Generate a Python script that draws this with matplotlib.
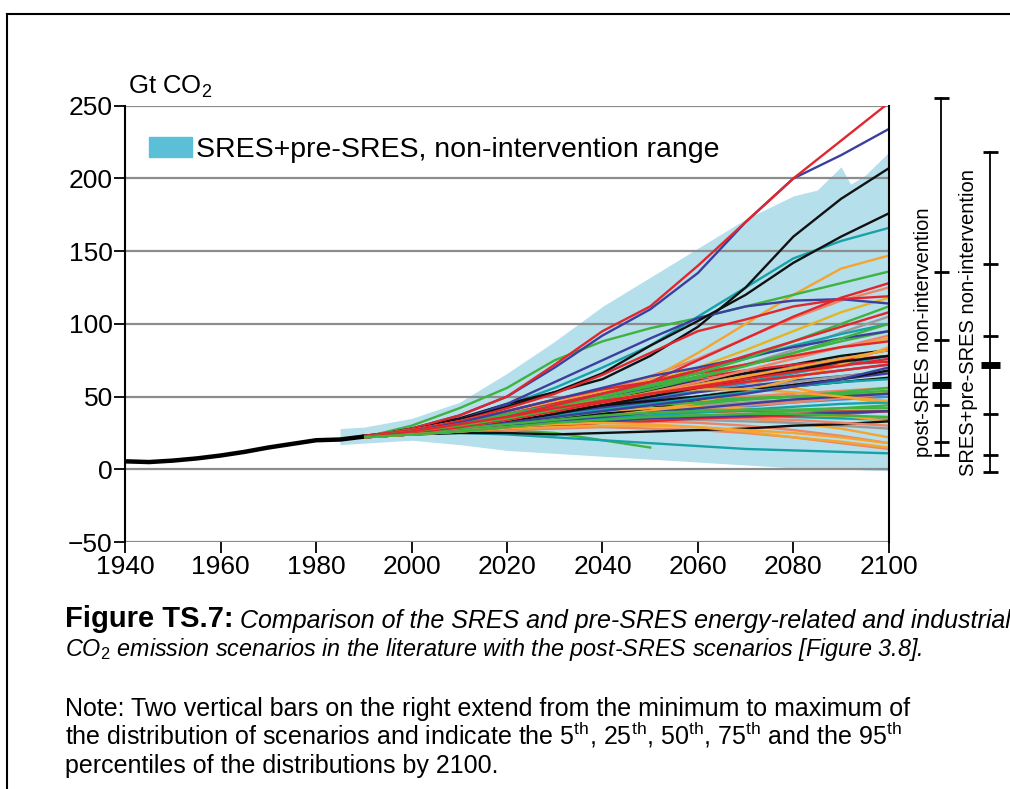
import numpy as np
import matplotlib
matplotlib.use("Agg")
import matplotlib.pyplot as plt
from matplotlib.patches import Patch
from matplotlib.lines import Line2D
import matplotlib.transforms as mtransforms

plt.rcParams['font.family'] = ['Liberation Sans', 'DejaVu Sans']
plt.rcParams['mathtext.fontset'] = 'custom'
plt.rcParams['mathtext.rm'] = 'Liberation Sans'
plt.rcParams['mathtext.it'] = 'Liberation Sans:italic'
plt.rcParams['mathtext.bf'] = 'Liberation Sans:bold'

# ===============================
# DATA
# ===============================

hist_years = [1940, 1945, 1950, 1955, 1960, 1965, 1970, 1975, 1980, 1985, 1990]
hist_co2 = [5.5, 5.0, 6.0, 7.5, 9.5, 12.0, 15.0, 17.5, 20.0, 20.5, 22.5]

band_years = [1985, 1990, 2000, 2010, 2020, 2030, 2040, 2050, 2060, 2070, 2080, 2085, 2090, 2092, 2095, 2100]
band_low = [17, 18, 20, 17, 13, 11, 9, 7, 5, 3, 1, 0.5, 0, 0, -0.5, -1]
band_high = [28, 29, 35, 46, 66, 88, 112, 132, 152, 172, 188, 192, 208, 196, 202, 218]

years = [1990, 2000, 2010, 2020, 2030, 2040, 2050, 2060, 2070, 2080, 2090, 2100]
nan = np.nan

red_runs = [
    [22, 28, 37, 50, 72, 95, 112, 140, 170, 200, 226, 252],
    [23, 27, 33, 42, 52, 65, 80, 95, 103, 112, 117, 119],
    [22, 26, 31, 37, 45, 52, 60, 75, 90, 105, 118, 128],
    [23, 26, 32, 38, 45, 52, 58, 63, 68, 72, 75, 78],
    [22, 25, 29, 33, 38, 45, 52, 58, 63, 68, 72, 74],
    [23, 27, 33, 40, 48, 55, 60, 66, 72, 78, 84, 88],
    [22, 24, 26, 28, 30, 32, 33, 35, 36, 37, 38, 40],
    [22, 25, 30, 36, 44, 52, 60, 68, 78, 88, 98, 108],
    [22, 25, 29, 34, 40, 46, 52, 57, 62, 67, 71, 76],
    [22, 26, 31, 36, 42, 47, 52, 56, 60, 64, 68, 72],
]
blue_runs = [
    [22, 28, 37, 50, 70, 92, 110, 135, 170, 200, 216, 234],
    [23, 27, 34, 45, 60, 75, 90, 104, 112, 116, 117, 114],
    [22, 26, 31, 37, 44, 50, 56, 61, 66, 70, 74, 78],
    [22, 25, 29, 33, 38, 43, 48, 53, 57, 61, 64, 67],
    [23, 26, 30, 34, 38, 42, 46, 50, 54, 58, 62, 66],
    [22, 24, 27, 30, 33, 36, 39, 42, 45, 48, 50, 52],
    [22, 26, 32, 40, 48, 56, 64, 70, 77, 84, 90, 95],
    [22, 25, 28, 32, 36, 40, 44, 48, 52, 57, 62, 70],
    [22, 24, 26, 29, 31, 33, 35, 36, 37, 38, 39, 40],
]
black_runs = [
    [22, 28, 35, 45, 53, 62, 78, 98, 125, 160, 186, 207],
    [22, 27, 34, 43, 53, 66, 85, 102, 120, 142, 160, 176],
    [23, 26, 30, 34, 40, 47, 54, 60, 66, 72, 78, 82],
    [22, 25, 28, 31, 34, 38, 42, 48, 53, 57, 60, 63],
    [22, 24, 25, 25, 24, 25, 26, 27, 28, 30, 31, 33],
    [23, 26, 31, 36, 40, 44, 47, 50, 54, 58, 62, 68],
    [22, 25, 29, 33, 38, 44, 50, 56, 62, 68, 74, 78],
]
teal_runs = [
    [22, 27, 34, 44, 56, 70, 85, 105, 125, 145, 157, 166],
    [22, 24, 25, 24, 22, 20, 18, 16, 14, 13, 12, 11],
    [23, 26, 30, 35, 40, 45, 50, 55, 60, 66, 72, 78],
    [22, 25, 28, 31, 33, 35, 36, 37, 37, 36, 35, 34],
    [22, 26, 31, 37, 44, 52, 60, 68, 76, 85, 93, 100],
    [22, 24, 27, 29, 32, 35, 37, 39, 41, 43, 45, 46],
    [22, 25, 29, 33, 37, 41, 45, 49, 53, 57, 60, 62],
]
green_runs = [
    [22, 30, 42, 56, 75, 88, 97, 104, 112, 120, 128, 136],
    [22, 24, 26, 27, 25, 20, 15, nan, nan, nan, nan, nan],
    [22, 25, 29, 34, 38, 42, 45, 47, 49, 50, 51, 52],
    [22, 24, 27, 31, 35, 39, 42, 45, 48, 50, 53, 56],
    [23, 27, 32, 38, 44, 50, 57, 64, 72, 80, 88, 95],
    [22, 25, 28, 32, 36, 40, 44, 46, 48, 50, 52, 54],
    [22, 24, 26, 28, 30, 32, 34, 36, 38, 40, 42, 44],
    [22, 26, 31, 37, 43, 50, 58, 66, 76, 88, 100, 112],
    [22, 25, 28, 31, 34, 37, 39, 40, 41, 41, 42, 42],
    [22, 26, 30, 35, 41, 48, 55, 63, 71, 80, 90, 100],
    [22, 24, 26, 29, 32, 34, 36, 37, 38, 38, 37, 36],
]
orange_runs = [
    [22, 26, 31, 37, 44, 52, 62, 80, 100, 120, 138, 147],
    [22, 26, 32, 40, 48, 55, 60, 62, 60, 56, 50, 45],
    [22, 25, 28, 31, 33, 35, 36, 36, 35, 32, 28, 22],
    [23, 27, 33, 40, 47, 54, 60, 66, 72, 78, 84, 90],
    [22, 25, 29, 33, 37, 40, 42, 43, 42, 40, 37, 33],
    [22, 24, 27, 30, 33, 36, 40, 46, 54, 62, 72, 84],
    [22, 25, 30, 36, 42, 48, 52, 55, 55, 53, 50, 47],
    [22, 24, 26, 28, 29, 30, 30, 29, 27, 25, 22, 18],
    [22, 25, 29, 34, 40, 46, 52, 58, 64, 70, 76, 82],
    [22, 24, 26, 29, 31, 32, 31, 29, 26, 22, 19, 15],
]
salmon_runs = [
    [22, 26, 31, 38, 46, 54, 64, 76, 90, 104, 116, 125],
    [22, 24, 27, 30, 32, 33, 33, 32, 30, 27, 23, 18],
    [23, 26, 30, 34, 38, 42, 45, 48, 50, 52, 54, 56],
    [22, 25, 28, 32, 35, 38, 40, 42, 44, 46, 49, 52],
    [22, 24, 26, 27, 28, 29, 28, 27, 25, 22, 18, 14],
    [22, 25, 29, 34, 40, 46, 53, 60, 68, 76, 84, 92],
    [22, 25, 27, 29, 31, 33, 34, 35, 35, 34, 32, 30],
]
gray_runs = [
    [22, 26, 31, 37, 43, 48, 52, 56, 60, 64, 68, 72],
    [22, 25, 29, 35, 41, 47, 54, 62, 72, 82, 94, 105],
    [23, 26, 30, 34, 37, 40, 42, 44, 46, 48, 50, 52],
    [22, 25, 28, 30, 32, 33, 34, 34, 33, 32, 30, 28],
    [22, 25, 28, 32, 36, 40, 45, 50, 55, 60, 64, 67],
]
lightblue_runs = [
    [22, 25, 29, 34, 39, 44, 49, 54, 59, 64, 68, 72],
    [22, 24, 27, 30, 33, 36, 38, 41, 43, 46, 48, 50],
]
gold_runs = [
    [22, 25, 29, 33, 36, 39, 41, 43, 45, 47, 50, 53],
    [22, 26, 32, 38, 44, 52, 60, 70, 82, 95, 108, 118],
    [22, 24, 27, 30, 33, 35, 37, 38, 38, 37, 36, 35],
]
brown_runs = [
    [22, 25, 28, 31, 34, 36, 38, 39, 40, 40, 40, 40],
    [22, 25, 30, 35, 40, 46, 52, 58, 64, 70, 76, 82],
]

# percentile bars at 2100: min, 5, 25, 50, 75, 95, max
post_sres_bar = [10, 19, 44, 58, 89, 136, 255]
sres_bar = [-2, 10, 38, 72, 92, 141, 218]

# ===============================
# PLOT
# ===============================

fig = plt.figure(figsize=(10.1, 7.89), dpi=100)
ax = fig.add_axes([0.124, 0.313, 0.756, 0.553])

ax.fill_between(band_years, band_low, band_high, color="#b4dfeb", lw=0, zorder=1)

for yv in [-50, 0, 50, 100, 150, 200, 250]:
    ax.axhline(yv, color="#8c8c8c", lw=1.6, zorder=1.5)

groups = [
    (gray_runs, "#9a9a9a"),
    (lightblue_runs, "#3d8fd6"),
    (brown_runs, "#b0623a"),
    (gold_runs, "#e6b422"),
    (salmon_runs, "#ee8466"),
    (orange_runs, "#f5a431"),
    (green_runs, "#3fb23f"),
    (teal_runs, "#17a2a8"),
    (blue_runs, "#3c3f9e"),
    (black_runs, "#111111"),
    (red_runs, "#e1262d"),
]
# draw round-robin so no colour sits on top of all the others
longest = max(len(g[0]) for g in groups)
for i in range(longest):
    for runs, col in groups:
        if i < len(runs):
            ax.plot(years, runs[i], color=col, lw=1.7, zorder=2)

ax.plot(hist_years, hist_co2, color="black", lw=3.2, zorder=3, solid_capstyle="butt")

ax.set_xlim(1940, 2100)
ax.set_ylim(-50, 250)
ax.set_xticks(range(1940, 2101, 20))
ax.set_yticks(range(-50, 251, 50))
ax.tick_params(axis="both", labelsize=19, length=8, width=1.3, direction="out", color="black", pad=1)

for side in ["top", "bottom"]:
    ax.spines[side].set_visible(False)
ax.spines["left"].set_linewidth(1.5)
ax.spines["right"].set_linewidth(1.5)

ax.text(0.003, 1.012, "Gt CO$_2$", transform=ax.transAxes, fontsize=18.5, ha="left", va="bottom")

leg = ax.legend(handles=[Patch(color="#5bbfd8", label="SRES+pre-SRES, non-intervention range")],
                loc="upper left", bbox_to_anchor=(0.005, 0.975), frameon=False, fontsize=20.5,
                handlelength=1.5, handleheight=0.75, handletextpad=0.15, borderaxespad=0.3)

# vertical percentile bars on the right
trans = mtransforms.blended_transform_factory(ax.transAxes, ax.transData)
for xb, bar in [(1.069, post_sres_bar), (1.133, sres_bar)]:
    ax.plot([xb, xb], [bar[0], bar[-1]], color="black", lw=1.3, transform=trans, clip_on=False)
    for i, v in enumerate(bar):
        if i == 3:
            ax.plot([xb - 0.012, xb + 0.012], [v, v], color="black", lw=5, transform=trans,
                    clip_on=False, solid_capstyle="butt")
        else:
            ax.plot([xb - 0.010, xb + 0.010], [v, v], color="black", lw=2, transform=trans,
                    clip_on=False, solid_capstyle="butt")

narrow = ['Liberation Sans Narrow', 'Liberation Sans']
ax.text(1.045, 94, "post-SRES non-intervention", transform=trans, rotation=90,
        ha="center", va="center", fontsize=14.5, family=narrow)
ax.text(1.104, 101, "SRES+pre-SRES non-intervention", transform=trans, rotation=90,
        ha="center", va="center", fontsize=14.5, family=narrow)

# frame lines of the page
fig.add_artist(Line2D([0.007, 1.0], [0.982, 0.982], color="black", lw=1.5))
fig.add_artist(Line2D([0.007, 0.007], [0.0, 0.982], color="black", lw=1.5))

# caption
t1 = fig.text(0.064, 0.205, "Figure TS.7:", fontsize=21, fontweight="bold", ha="left", va="baseline")
ax.annotate(" Comparison of the SRES and pre-SRES energy-related and industrial",
            xy=(1, 0), xycoords=t1, va="bottom", ha="left", fontsize=18, style="italic", family=narrow)
fig.text(0.064, 0.168, "CO$_2$ emission scenarios in the literature with the post-SRES scenarios [Figure 3.8].",
         fontsize=16.8, style="italic", family=narrow, ha="left", va="baseline")

note = ["Note: Two vertical bars on the right extend from the minimum to maximum of",
        "the distribution of scenarios and indicate the 5$^{\\rm th}$, 25$^{\\rm th}$, 50$^{\\rm th}$, 75$^{\\rm th}$ and the 95$^{\\rm th}$",
        "percentiles of the distributions by 2100."]
for i, line in enumerate(note):
    fig.text(0.064, 0.093 - i * 0.0365, line, fontsize=18, family=narrow, ha="left", va="baseline")

fig.savefig("out.png", dpi=100)
